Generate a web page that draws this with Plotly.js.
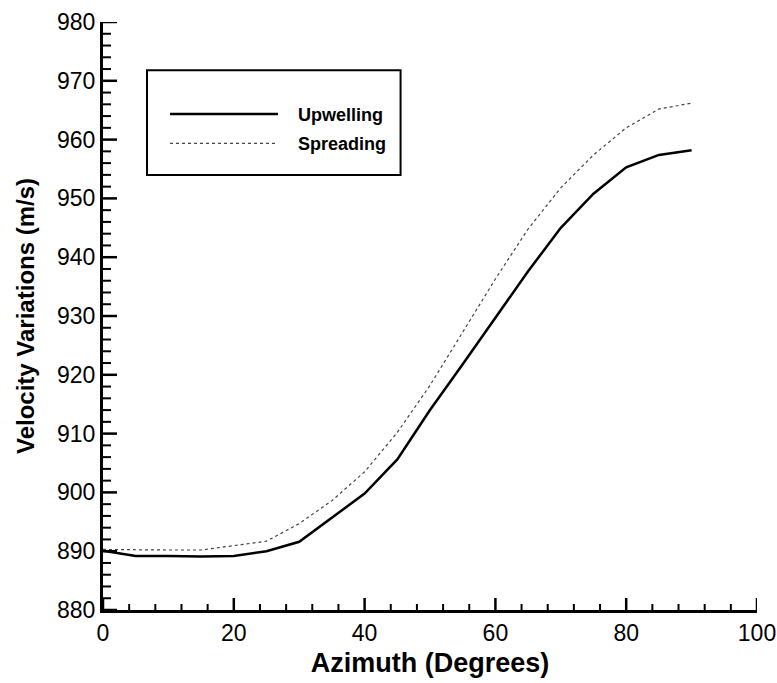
<!DOCTYPE html>
<html>
<head>
<meta charset="utf-8">
<script src="https://cdn.plot.ly/plotly-3.0.1.min.js"></script>
<style>html,body{margin:0;padding:0;background:#fff;}#chart{width:777px;height:683px;}</style>
</head>
<body>
<div id="chart"></div>
<script>
// Azimuth (degrees)
const azimuth = [0, 5, 10, 15, 20, 25, 30, 35, 40, 45, 50, 55, 60, 65, 70, 75, 80, 85, 90];
// Velocity variations (m/s)
const upwelling = [890.1, 889.2, 889.2, 889.1, 889.2, 890.0, 891.6, 895.7, 899.8, 905.6, 914.0, 921.8, 929.8, 937.6, 945.0, 950.8, 955.3, 957.4, 958.2];
const spreading = [890.3, 890.2, 890.2, 890.2, 890.9, 891.7, 894.7, 898.6, 903.5, 910.2, 918.2, 927.2, 936.3, 944.8, 951.8, 957.4, 962.0, 965.2, 966.2];
const seriesNames = ["Upwelling", "Spreading"];
const xRange = [0, 100];
const yRange = [880, 980];
const xMajorStep = 20, xMinorStep = 4;
const yMajorStep = 10, yMinorStep = 2;

const FONT = "Liberation Sans, Arial, Helvetica, sans-serif";
const PAD = "\u00A0\u00A0\u00A0";

const traces = [
  {x: azimuth, y: upwelling, name: PAD + seriesNames[0], legendgroup: "g1", mode: "lines", type: "scatter",
   line: {color: "#000000", width: 2.5}},
  {x: azimuth, y: spreading, name: PAD + seriesNames[1], legendgroup: "g2", mode: "lines", type: "scatter",
   line: {color: "#444444", width: 1.2, dash: "dot"}}
];

// inward tick marks, placed at axis values through the axis scales
function tickValues(range, step) {
  const out = [];
  for (let k = 0; range[0] + k * step <= range[1] + 1e-9; k++) out.push(+(range[0] + k * step).toFixed(6));
  return out;
}
function isMajor(v, base, step) { return Math.abs(((v - base) / step) - Math.round((v - base) / step)) < 1e-6; }

const shapes = [
  {type: "rect", xref: "paper", yref: "paper", x0: 0.0673, x1: 0.455, y0: 0.740, y1: 0.918,
   line: {color: "#000", width: 2}, fillcolor: "rgba(0,0,0,0)", layer: "below"}
];
tickValues(xRange, xMinorStep).forEach(function(v) {
  const major = isMajor(v, xRange[0], xMajorStep);
  shapes.push({type: "line", xref: "x", x0: v, x1: v, yref: "paper", ysizemode: "pixel", yanchor: 0,
    y0: 0, y1: major ? 12 : 6, line: {color: "#000", width: major ? 2.5 : 2}});
});
tickValues(yRange, yMinorStep).forEach(function(v) {
  const major = isMajor(v, yRange[0], yMajorStep);
  shapes.push({type: "line", yref: "y", y0: v, y1: v, xref: "paper", xsizemode: "pixel", xanchor: 0,
    x0: 0, x1: major ? 14 : 8, line: {color: "#000", width: major ? 2.5 : 2}});
});

const layout = {
  width: 777, height: 683,
  margin: {l: 103, r: 20, t: 22, b: 73},
  paper_bgcolor: "#ffffff", plot_bgcolor: "#ffffff",
  font: {family: FONT, size: 23, color: "#000"},
  showlegend: true,
  legend: {
    x: 0.0948, y: 0.8746, xanchor: "left", yanchor: "top",
    bgcolor: "rgba(0,0,0,0)", borderwidth: 0,
    font: {family: FONT, size: 18, weight: 700, color: "#000"},
    itemwidth: 108, traceorder: "grouped", tracegroupgap: 3
  },
  shapes: shapes,
  xaxis: {
    range: xRange, dtick: xMajorStep,
    showgrid: false, zeroline: false,
    showline: true, linecolor: "#000", linewidth: 3,
    ticks: "",
    title: {text: "Azimuth (Degrees)", font: {family: FONT, size: 27, weight: 700, color: "#000"}, standoff: 9}
  },
  yaxis: {
    range: yRange, dtick: yMajorStep,
    showgrid: false, zeroline: false,
    showline: true, linecolor: "#000", linewidth: 3,
    ticks: "",
    title: {text: "Velocity Variations (m/s)", font: {family: FONT, size: 24, weight: 700, color: "#000"}, standoff: 16}
  }
};

Plotly.newPlot("chart", traces, layout, {displayModeBar: false});
</script>
</body>
</html>
